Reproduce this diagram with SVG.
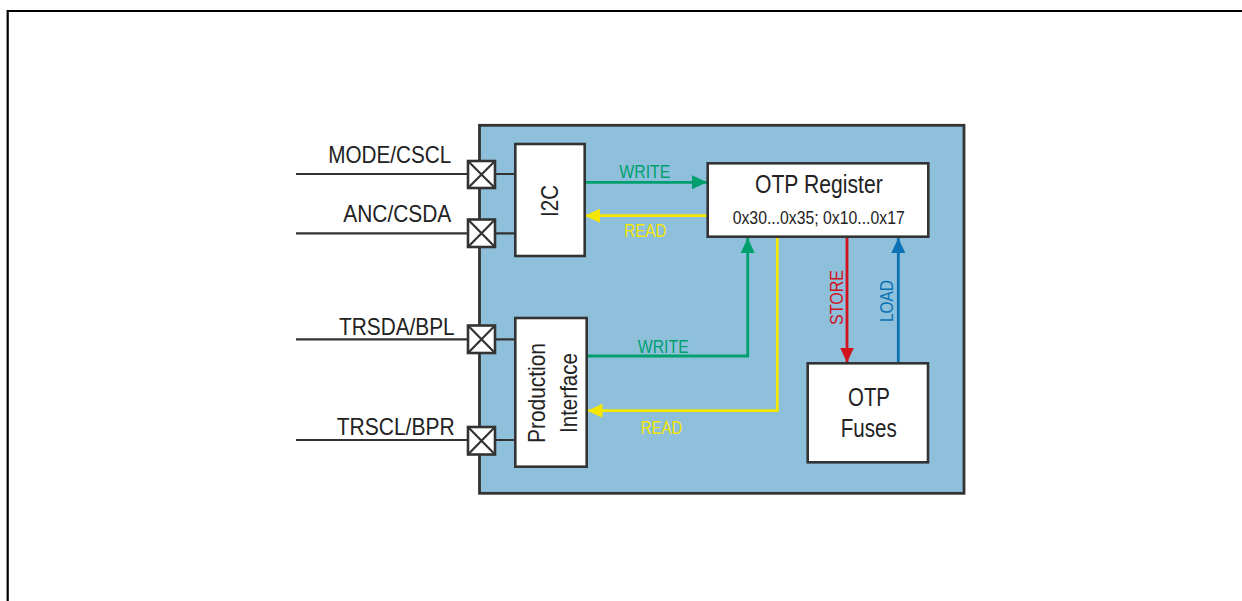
<svg xmlns="http://www.w3.org/2000/svg" width="1242" height="601" viewBox="0 0 1242 601">
<defs>
<style>
.frame{fill:none;stroke:#000;stroke-width:2.2}
.chip{fill:#8ec0dc;stroke:#333;stroke-width:2.8}
.box{fill:#fff;stroke:#333;stroke-width:2.6}
.pad{fill:#fff;stroke:#333;stroke-width:2.6}
.padx{stroke:#333;stroke-width:2.2}
.wire{fill:none;stroke:#333;stroke-width:2.2}
.t{font-family:"Liberation Sans",Arial,sans-serif;fill:#222}
.lbl{font-size:24px}
.grn{fill:none;stroke:#00a06e;stroke-width:2.8}
.yel{fill:none;stroke:#f4e600;stroke-width:2.8}
.red{fill:none;stroke:#d2121c;stroke-width:2.8}
.blu{fill:none;stroke:#0a72b4;stroke-width:2.8}
.sm{font-family:"Liberation Sans",Arial,sans-serif;font-size:19px}
</style>
<marker id="ag" markerWidth="15" markerHeight="14" refX="15" refY="7" orient="auto" markerUnits="userSpaceOnUse"><path d="M0,0 L15,7 L0,14 Z" fill="#00a06e"/></marker>
<marker id="ay" markerWidth="15" markerHeight="14" refX="15" refY="7" orient="auto" markerUnits="userSpaceOnUse"><path d="M0,0 L15,7 L0,14 Z" fill="#f4e600"/></marker>
<marker id="ar" markerWidth="15" markerHeight="14" refX="15" refY="7" orient="auto" markerUnits="userSpaceOnUse"><path d="M0,0 L15,7 L0,14 Z" fill="#d2121c"/></marker>
<marker id="ab" markerWidth="15" markerHeight="14" refX="15" refY="7" orient="auto" markerUnits="userSpaceOnUse"><path d="M0,0 L15,7 L0,14 Z" fill="#0a72b4"/></marker>
</defs>
<rect width="1242" height="601" fill="#fff"/>
<path class="frame" d="M7.7,601 L7.7,11 L1242,11"/>

<g id="chip">
<rect class="chip" x="479.5" y="125.3" width="484.5" height="368"/>
</g>

<g id="connectors">
<path class="wire" d="M296,174 H468 M495,174 H515"/>
<path class="wire" d="M296,233.3 H468 M495,233.3 H515"/>
<path class="wire" d="M296,339.3 H468 M495,339.3 H515"/>
<path class="wire" d="M296,440 H468 M495,440 H515"/>
<path class="grn" d="M585,182.3 H707" marker-end="url(#ag)"/>
<path class="yel" d="M707,215.7 H585" marker-end="url(#ay)"/>
<path class="grn" d="M587,356 H747.7 V238" marker-end="url(#ag)"/>
<path class="yel" d="M777.3,237 V410.7 H587.5" marker-end="url(#ay)"/>
<path class="red" d="M847,237 V362.5" marker-end="url(#ar)"/>
<path class="blu" d="M898.3,363 V238" marker-end="url(#ab)"/>
<text class="sm" x="619.3" y="178.3" fill="#00a06e" textLength="51" lengthAdjust="spacingAndGlyphs">WRITE</text>
<text class="sm" x="624.3" y="237.3" fill="#f4e600" textLength="42" lengthAdjust="spacingAndGlyphs">READ</text>
<text class="sm" x="637.7" y="353.3" fill="#00a06e" textLength="51" lengthAdjust="spacingAndGlyphs">WRITE</text>
<text class="sm" x="640.7" y="434" fill="#f4e600" textLength="41.5" lengthAdjust="spacingAndGlyphs">READ</text>
<text class="sm" transform="translate(843,297.5) rotate(-90)" text-anchor="middle" fill="#d2121c" textLength="55" lengthAdjust="spacingAndGlyphs">STORE</text>
<text class="sm" transform="translate(893,301) rotate(-90)" text-anchor="middle" fill="#0a72b4" textLength="42" lengthAdjust="spacingAndGlyphs">LOAD</text>
</g>

<g id="pad-mode">
<rect class="pad" x="468" y="161" width="27" height="27"/>
<path class="padx" d="M468,161 L495,188 M495,161 L468,188"/>
<text class="t lbl" x="451.3" y="163.3" text-anchor="end" textLength="123" lengthAdjust="spacingAndGlyphs">MODE/CSCL</text>
</g>
<g id="pad-anc">
<rect class="pad" x="468" y="219.5" width="27" height="27.5"/>
<path class="padx" d="M468,219.5 L495,247 M495,219.5 L468,247"/>
<text class="t lbl" x="451.3" y="222" text-anchor="end" textLength="108" lengthAdjust="spacingAndGlyphs">ANC/CSDA</text>
</g>
<g id="pad-trsda">
<rect class="pad" x="468" y="325.5" width="27" height="27.5"/>
<path class="padx" d="M468,325.5 L495,353 M495,325.5 L468,353"/>
<text class="t lbl" x="454.7" y="334.7" text-anchor="end" textLength="115.7" lengthAdjust="spacingAndGlyphs">TRSDA/BPL</text>
</g>
<g id="pad-trscl">
<rect class="pad" x="468" y="427" width="27" height="27.5"/>
<path class="padx" d="M468,427 L495,454.5 M495,427 L468,454.5"/>
<text class="t lbl" x="454.7" y="434.7" text-anchor="end" textLength="118" lengthAdjust="spacingAndGlyphs">TRSCL/BPR</text>
</g>

<g id="i2c">
<rect class="box" x="515.3" y="144" width="69.4" height="112"/>
<text class="t lbl" transform="translate(558,201) rotate(-90)" text-anchor="middle" textLength="32" lengthAdjust="spacingAndGlyphs">I2C</text>
</g>

<g id="production-interface">
<rect class="box" x="515.3" y="318" width="71.4" height="148.7"/>
<text class="t lbl" transform="translate(545,393) rotate(-90)" text-anchor="middle" textLength="100" lengthAdjust="spacingAndGlyphs">Production</text>
<text class="t lbl" transform="translate(577,393) rotate(-90)" text-anchor="middle" textLength="80" lengthAdjust="spacingAndGlyphs">Interface</text>
</g>

<g id="otp-register">
<rect class="box" x="707.7" y="163.3" width="220.6" height="73.4"/>
<text class="t" x="755" y="193.3" font-size="25" textLength="127.7" lengthAdjust="spacingAndGlyphs">OTP Register</text>
<text class="t" x="732.7" y="224" font-size="18" textLength="172" lengthAdjust="spacingAndGlyphs">0x30...0x35; 0x10...0x17</text>
</g>

<g id="otp-fuses">
<rect class="box" x="807.7" y="363.3" width="120.3" height="99"/>
<text class="t" x="869" y="406" font-size="26" text-anchor="middle" textLength="42" lengthAdjust="spacingAndGlyphs">OTP</text>
<text class="t" x="868.7" y="436.7" font-size="26" text-anchor="middle" textLength="56" lengthAdjust="spacingAndGlyphs">Fuses</text>
</g>
</svg>
